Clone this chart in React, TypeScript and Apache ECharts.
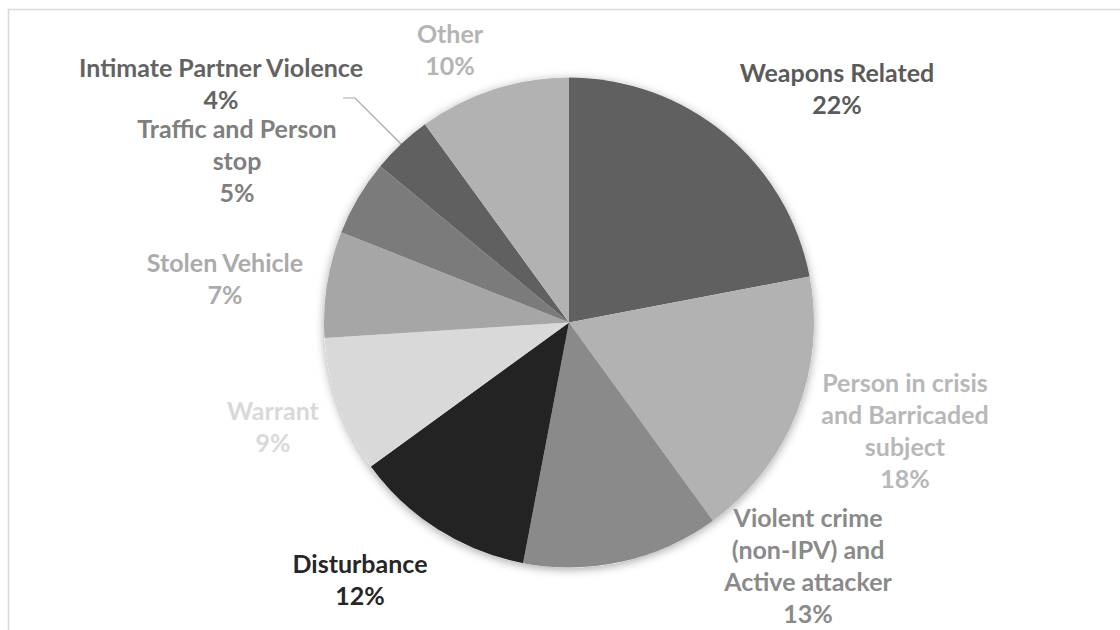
import React, { useEffect, useRef } from "react";
import * as echarts from "echarts";

const categories = [
  "Weapons Related",
  "Person in crisis and Barricaded subject",
  "Violent crime (non-IPV) and Active attacker",
  "Disturbance",
  "Warrant",
  "Stolen Vehicle",
  "Traffic and Person stop",
  "Intimate Partner Violence",
  "Other",
];
const labelLines = [
  "Weapons Related",
  "Person in crisis\nand Barricaded\nsubject",
  "Violent crime\n(non-IPV) and\nActive attacker",
  "Disturbance",
  "Warrant",
  "Stolen Vehicle",
  "Traffic and Person\nstop",
  "Intimate Partner Violence",
  "Other",
];
const values = [22, 18, 13, 12, 9, 7, 5, 4, 10];

const sliceColors = ["#606060", "#b2b2b2", "#8a8a8a", "#232323", "#d9d9d9", "#a6a6a6", "#7b7b7b", "#606060", "#b2b2b2"];
const labelColors = ["#5a5a5a", "#b8b8b8", "#8a8a8a", "#262626", "#d9d9d9", "#ababab", "#7f7f7f", "#636363", "#b4b4b4"];
// label block centres (layout only)
const labelPos: [number, number][] = [
  [837, 88],
  [905, 430],
  [808, 565],
  [360, 579],
  [273, 426],
  [225, 278],
  [237, 160],
  [221, 83],
  [450, 49],
];

const CENTER: [number, number] = [569, 322.5];
const RADIUS = 245;

export default function App() {
  const ref = useRef<HTMLDivElement>(null);
  useEffect(() => {
    if (!ref.current) return;
    const chart = echarts.init(ref.current, undefined, { renderer: "svg" });
    const font = "Lato";
    chart.setOption({
      animation: false,
      backgroundColor: "#ffffff",
      graphic: [
        {
          type: "rect",
          shape: { x: 8.5, y: 9.5, width: 1300, height: 800 },
          style: { fill: "none", stroke: "#d9d9d9", lineWidth: 1.5 },
          silent: true,
          z: 0,
        },
      ],
      series: [
        {
          type: "pie",
          center: CENTER,
          radius: RADIUS,
          silent: true,
          label: { show: false },
          labelLine: { show: false },
          itemStyle: {
            color: "#ffffff",
            shadowBlur: 10,
            shadowColor: "rgba(0,0,0,0.35)",
            shadowOffsetY: 2,
          },
          data: [{ value: 1, name: "" }],
          z: 1,
        },
        {
          type: "pie",
          center: CENTER,
          radius: RADIUS,
          startAngle: 90,
          clockwise: true,
          percentPrecision: 0,
          avoidLabelOverlap: false,
          z: 2,
          data: categories.map((c, i) => ({
            name: c,
            value: values[i],
            itemStyle: { color: sliceColors[i] },
            label: { color: labelColors[i] },
            labelLine: { show: i === 7 },
          })),
          itemStyle: { borderWidth: 0 },
          label: {
            show: true,
            position: "outside",
            fontFamily: font,
            fontWeight: "bold",
            fontSize: 25,
            lineHeight: 32.3,
            align: "center",
            formatter: (p: any) => `${labelLines[p.dataIndex]}\n${p.percent}%`,
          },
          labelLine: {
            show: false,
            lineStyle: { color: "#a6a6a6", width: 1.2 },
          },
          labelLayout: (p: any) => {
            const [x, y] = labelPos[p.dataIndex];
            const res: any = { x, y, align: "center", verticalAlign: "middle" };
            if (p.dataIndex === 7) {
              res.labelLinePoints = [
                [402, 145],
                [355, 98],
                [343, 98],
              ];
            }
            return res;
          },
        },
      ],
    });
    return () => chart.dispose();
  }, []);
  return (
    <div
      ref={ref}
      style={{ position: "fixed", left: 0, top: 0, width: 1120, height: 630 }}
    />
  );
}
